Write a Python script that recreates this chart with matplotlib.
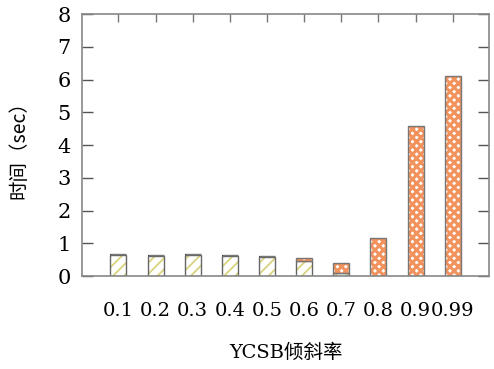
import matplotlib.pyplot as plt
import numpy as np

skew = ['0.1', '0.2', '0.3', '0.4', '0.5', '0.6', '0.7', '0.8', '0.9', '0.99']
part_a = [0.63, 0.62, 0.64, 0.61, 0.59, 0.45, 0.08, 0.0, 0.0, 0.0]
part_b = [0.03, 0.02, 0.02, 0.02, 0.02, 0.02, 0.01, 0.01, 0.01, 0.01]
part_c = [0.0, 0.0, 0.0, 0.0, 0.0, 0.08, 0.30, 1.16, 4.58, 6.09]

serif = ['DejaVu Serif', 'Noto Sans CJK SC']
cjk = ['Noto Sans CJK SC', 'DejaVu Sans']

fig = plt.figure(figsize=(4.94, 3.69), dpi=100)
ax = fig.add_axes([0.166, 0.252, 0.824, 0.710])

x = np.arange(len(skew))
w = 0.43
a = np.array(part_a)
b = np.array(part_b)
c = np.array(part_c)

plt.rcParams['hatch.linewidth'] = 1.3
ax.bar(x, a, w, color='white', edgecolor='#d8d47e', hatch='///', linewidth=0)
ax.bar(x, a, w, color='none', edgecolor='#666666', linewidth=1)
ax.bar(x, b, w, bottom=a, color='black', linewidth=0)
plt.rcParams['hatch.linewidth'] = 2.2
ax.bar(x, c, w, bottom=a + b, color='white', edgecolor='#f2925c', hatch='xxxx', linewidth=0)
ax.bar(x, c, w, bottom=a + b, color='none', edgecolor='#777777', linewidth=1)

ax.set_xlim(-0.98, 9.98)
ax.set_ylim(0, 8)
ax.set_xticks(x)
ax.set_xticklabels(skew, fontfamily=serif, fontsize=14)
ax.set_yticks(range(9))
ax.set_yticklabels([str(i) for i in range(9)], fontfamily=serif, fontsize=15)

ax.tick_params(axis='x', direction='in', top=True, bottom=False, length=6, width=1,
               color='#777777', pad=19)
ax.tick_params(axis='y', direction='in', right=True, length=8, width=1,
               color='#555555', pad=8)
for s in ax.spines.values():
    s.set_color('#888888')
    s.set_linewidth(1.2)

ax.set_xlabel('YCSB倾斜率', fontfamily=serif, fontsize=14, labelpad=17)
ax.set_ylabel('时间（sec）', fontfamily=cjk, fontsize=14, labelpad=20)

fig.savefig('out.png', dpi=100)
